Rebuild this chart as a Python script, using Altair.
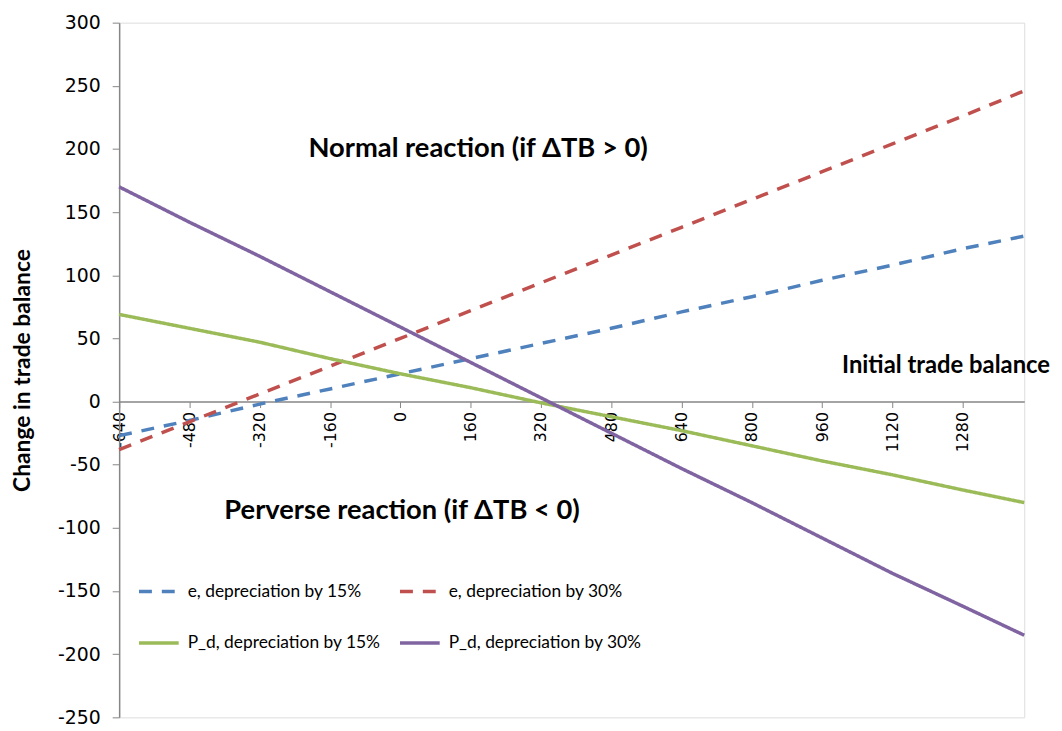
import altair as alt
import pandas as pd

# Initial trade balance (x) and change in trade balance for each scenario
x_vals = [-640, -480, -320, -160, 0, 160, 320, 480, 640, 800, 960, 1120, 1280, 1420]
e15 = [-27, -15, -2, 10, 22, 34, 46, 58, 71, 83, 96, 108, 121, 131]
e30 = [-38, -16, 6, 28, 50, 72, 94, 116, 138, 160, 182, 204, 226, 246]
pd15 = [69, 58, 47, 34, 22, 11, -1, -12, -23, -35, -47, -58, -70, -80]
pd30 = [170, 142, 115, 87, 59, 31, 3, -25, -53, -80, -108, -136, -162, -185]

series_names = ["e, depreciation by 15%", "e, depreciation by 30%",
                "P_d, depreciation by 15%", "P_d, depreciation by 30%"]
series_colors = ["#4F81BD", "#C0504D", "#9BBB59", "#8064A2"]
series_dash = [[13, 10], [13, 10], [1, 0], [1, 0]]

x_ticks = [-640, -480, -320, -160, 0, 160, 320, 480, 640, 800, 960, 1120, 1280]
y_ticks = [-250, -200, -150, -100, -50, 0, 50, 100, 150, 200, 250, 300]

ann_big_text = ["Normal reaction (if ΔTB > 0)", "Perverse reaction (if ΔTB < 0)"]
ann_big_x = [177, 4]
ann_big_y = [200, -87]
ann_small_text = ["Initial trade balance"]
ann_small_x = [1242]
ann_small_y = [28]

rows = []
for name, vals in zip(series_names, [e15, e30, pd15, pd30]):
    for xv, yv in zip(x_vals, vals):
        rows.append({"x": xv, "value": yv, "series": name})
df = pd.DataFrame(rows)

W, H = 912, 700
xscale = alt.Scale(domain=[-640, 1420], nice=False, zero=False)
yscale = alt.Scale(domain=[-250, 300], nice=False, zero=False)
y0_offset = -round(H * (1 - 300 / 550), 2)

leg = alt.Legend(
    title=None, orient="none", legendX=18, legendY=551, columns=2, direction="horizontal",
    symbolType="stroke", symbolSize=1600, symbolStrokeWidth=3.5,
    labelFont="Lato", labelFontSize=17.5, labelColor="#000000",
    columnPadding=12, rowPadding=21, padding=0, labelOffset=7,
    labelLimit=400,
)

lines = alt.Chart(df).mark_line(strokeWidth=3.5, strokeCap="butt").encode(
    x=alt.X("x:Q", scale=xscale,
            axis=alt.Axis(values=x_ticks, title=None, grid=False, offset=y0_offset,
                          labelAngle=270, labelFont="DejaVu Sans", labelFontSize=16,
                          labelExpr="'' + datum.value",
                          labelColor="#000000", domainColor="#868686", tickColor="#868686",
                          tickSize=6, labelPadding=4, domainWidth=1.5, labelFlush=False,
                          labelOverlap=False)),
    y=alt.Y("value:Q", scale=yscale,
            axis=alt.Axis(values=y_ticks, title="Change in trade balance", grid=False,
                          labelExpr="'' + datum.value",
                          labelFont="DejaVu Sans", labelFontSize=19, labelColor="#000000",
                          domainColor="#868686", tickColor="#868686", tickSize=7,
                          domainWidth=1.5, labelPadding=12, titleFont="Lato",
                          titleFontSize=23, titleFontWeight="bold", titleColor="#000000",
                          titlePadding=23)),
    color=alt.Color("series:N", scale=alt.Scale(domain=series_names, range=series_colors),
                    legend=leg),
    strokeDash=alt.StrokeDash("series:N", scale=alt.Scale(domain=series_names, range=series_dash),
                              legend=leg),
    order=alt.Order("x:Q"),
)

big = alt.Chart(pd.DataFrame({"x": ann_big_x, "y": ann_big_y, "t": ann_big_text})).mark_text(
    font="Lato", fontSize=27.5, fontWeight="bold", color="#000000"
).encode(x=alt.X("x:Q", scale=xscale), y=alt.Y("y:Q", scale=yscale), text="t:N")

small = alt.Chart(pd.DataFrame({"x": ann_small_x, "y": ann_small_y, "t": ann_small_text})).mark_text(
    font="Lato", fontSize=24, fontWeight="bold", color="#000000"
).encode(x=alt.X("x:Q", scale=xscale), y=alt.Y("y:Q", scale=yscale), text="t:N")

chart = alt.layer(lines, big, small).properties(
    width=W, height=H,
    autosize=alt.AutoSizeParams(type="none"),
    padding={"left": 112, "top": 12, "right": 30, "bottom": 10},
).configure_view(stroke=None).configure(background="#ffffff")

chart.save("out.html", embed_options={"renderer": "svg", "actions": False})
